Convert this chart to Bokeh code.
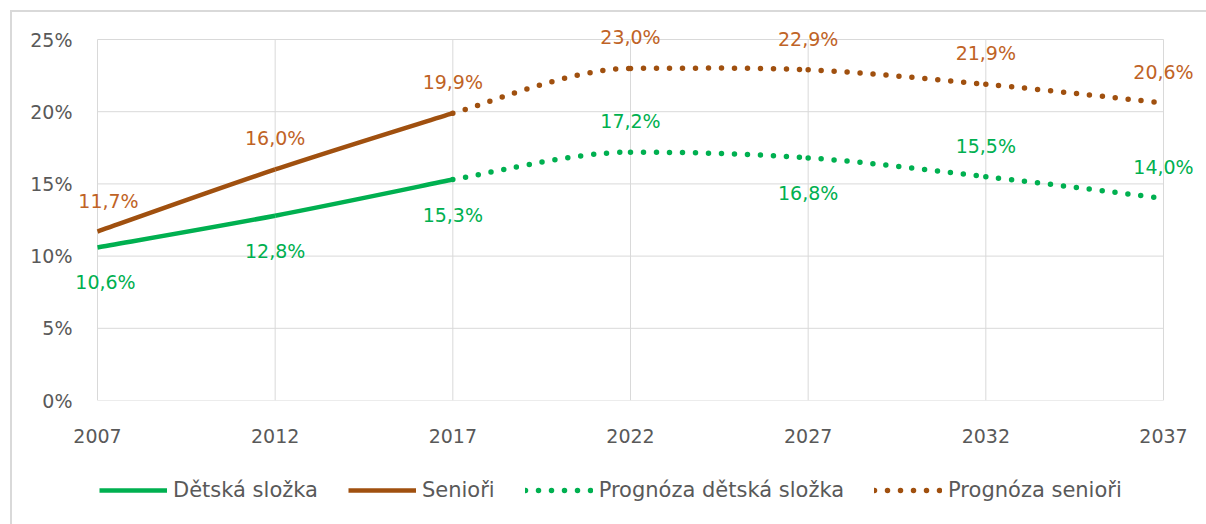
from bokeh.plotting import figure
from bokeh.layouts import column
from bokeh.models import (ColumnDataSource, LabelSet, Legend, LegendItem, Range1d,
                          FixedTicker)
from bokeh.core.properties import value
from bokeh.embed import file_html
from bokeh.resources import INLINE

# ---------------- data ----------------
years = [2007, 2012, 2017]
forecast_years = [2017, 2022, 2027, 2032, 2037]
detska = [10.6, 12.8, 15.3]
seniori = [11.7, 16.0, 19.9]
prognoza_detska = [15.3, 17.2, 16.8, 15.5, 14.0]
prognoza_seniori = [19.9, 23.0, 22.9, 21.9, 20.6]
x_ticks = [2007, 2012, 2017, 2022, 2027, 2032, 2037]
y_ticks = [0, 5, 10, 15, 20, 25]
y_tick_labels = ["0%", "5%", "10%", "15%", "20%", "25%"]
series_names = ["Dětská složka", "Senioři", "Prognóza dětská složka", "Prognóza senioři"]

# label placement per point (style)
detska_label_pos = ["below", "below", "below", "above", "below", "above", "above"]
seniori_label_pos = ["above"] * 7

GREEN = "#00B050"
BROWN_LINE = "#A0500F"
BROWN_TEXT = "#BF6326"
GREY_TEXT = "#595959"
GRID = "#D9D9D9"
FONT = "DejaVu Sans"
FSIZE = "19px"
LEGEND_FSIZE = "21px"


def smooth_segments(xs, ys):
    """Bezier control points for a smoothed line (Catmull-Rom tangents, flat at local extrema)."""
    n = len(xs)
    tang = []
    for i in range(n):
        a = max(i - 1, 0)
        b = min(i + 1, n - 1)
        if 0 < i < n - 1 and (ys[i] - ys[a]) * (ys[b] - ys[i]) <= 0:
            tang.append((xs[b] - xs[a], 0.0))
        else:
            tang.append((xs[b] - xs[a], ys[b] - ys[a]))
    d = dict(x0=[], y0=[], x1=[], y1=[], cx0=[], cy0=[], cx1=[], cy1=[])
    for i in range(n - 1):
        d["x0"].append(xs[i]); d["y0"].append(ys[i])
        d["x1"].append(xs[i + 1]); d["y1"].append(ys[i + 1])
        d["cx0"].append(xs[i] + tang[i][0] / 6.0)
        d["cy0"].append(ys[i] + tang[i][1] / 6.0)
        d["cx1"].append(xs[i + 1] - tang[i + 1][0] / 6.0)
        d["cy1"].append(ys[i + 1] - tang[i + 1][1] / 6.0)
    return ColumnDataSource(d)


# frame is a bit larger than the 2007-2037 / 0-25 grid so data labels are not clipped
px_per_year = 1066 / 30.0
px_per_pct = 361 / 25.0
x_start = x_ticks[0] - 22 / px_per_year
x_end = x_ticks[-1] + 32 / px_per_year
y_end = y_ticks[-1] + 14 / px_per_pct

p = figure(width=1206, height=470, output_backend="svg", toolbar_location=None,
           x_range=Range1d(x_start, x_end), y_range=Range1d(0, y_end),
           min_border_left=75, min_border_right=11, min_border_top=25, min_border_bottom=70)
p.styles = {"box-shadow": "inset 10px 10px 0 0 #FFFFFF, inset 12px 12px 0 0 #D9D9D9"}
p.background_fill_color = "white"
p.border_fill_alpha = 0
p.outline_line_color = None
p.xgrid.visible = False
p.ygrid.visible = False

for ax in (p.xaxis[0], p.yaxis[0]):
    ax.axis_line_color = None
    ax.major_tick_line_color = None
    ax.minor_tick_line_color = None
    ax.major_tick_out = 0
    ax.major_tick_in = 0
    ax.major_label_text_font = FONT
    ax.major_label_text_font_size = FSIZE
    ax.major_label_text_color = GREY_TEXT

p.xaxis.ticker = FixedTicker(ticks=x_ticks)
p.xaxis.major_label_standoff = 28
p.yaxis.ticker = FixedTicker(ticks=y_ticks)
p.yaxis.major_label_overrides = {t: l for t, l in zip(y_ticks, y_tick_labels)}
p.yaxis.major_label_standoff = 3

# grid lines (only over the 2007-2037 x 0-25 % area)
p.segment(x0=x_ticks, x1=x_ticks, y0=[y_ticks[0]] * len(x_ticks), y1=[y_ticks[-1]] * len(x_ticks),
          line_color=GRID, line_width=1)
p.segment(x0=[x_ticks[0]] * len(y_ticks), x1=[x_ticks[-1]] * len(y_ticks), y0=y_ticks, y1=y_ticks,
          line_color=GRID, line_width=1)

bz = dict(x0="x0", y0="y0", x1="x1", y1="y1", cx0="cx0", cy0="cy0", cx1="cx1", cy1="cy1")
solid = dict(line_width=4.5, line_cap="butt")
dotted = dict(line_width=5.5, line_cap="round", line_dash="0 13")
p.bezier(source=smooth_segments(years, detska), line_color=GREEN, **solid, **bz)
p.bezier(source=smooth_segments(years, seniori), line_color=BROWN_LINE, **solid, **bz)
p.bezier(source=smooth_segments(forecast_years, prognoza_detska), line_color=GREEN, **dotted, **bz)
p.bezier(source=smooth_segments(forecast_years, prognoza_seniori), line_color=BROWN_LINE, **dotted, **bz)

# data labels
all_years = years + forecast_years[1:]


def fmt(v):
    return f"{v:.1f}".replace(".", ",") + "%"


def label_source(vals, pos, first_dx):
    xo = [first_dx if i == 0 else 0 for i in range(len(vals))]
    yo = [31 if s == "above" else -35 for s in pos]
    return ColumnDataSource(dict(x=all_years, y=vals, text=[fmt(v) for v in vals], xo=xo, yo=yo))


det_vals = detska + prognoza_detska[1:]
sen_vals = seniori + prognoza_seniori[1:]

for vals, pos, col, dx in ((det_vals, detska_label_pos, GREEN, 8),
                           (sen_vals, seniori_label_pos, BROWN_TEXT, 11)):
    ls = LabelSet(x="x", y="y", text="text", x_offset="xo", y_offset="yo",
                  source=label_source(vals, pos, dx), text_align="center",
                  text_baseline="middle", text_font=value(FONT), text_font_size=FSIZE,
                  text_color=col)
    p.add_layout(ls)

# ---------------- legend strip ----------------
lg = figure(width=1206, height=54, output_backend="svg", toolbar_location=None,
            x_axis_location=None, y_axis_location=None, min_border=0,
            x_range=Range1d(0, 1), y_range=Range1d(0, 1))
lg.styles = {"box-shadow": "inset 10px 0 0 0 #FFFFFF, inset 12px 0 0 0 #D9D9D9"}
lg.background_fill_alpha = 0
lg.border_fill_alpha = 0
lg.outline_line_color = None
lg.xgrid.visible = False
lg.ygrid.visible = False

# legend proxies (same series, outside this strip's visible range)
l_det = lg.line(x=years, y=detska, line_color=GREEN, **solid)
l_sen = lg.line(x=years, y=seniori, line_color=BROWN_LINE, **solid)
l_pdet = lg.line(x=forecast_years, y=prognoza_detska, line_color=GREEN, **dotted)
l_psen = lg.line(x=forecast_years, y=prognoza_seniori, line_color=BROWN_LINE, **dotted)

legend = Legend(items=[LegendItem(label=series_names[0], renderers=[l_det]),
                       LegendItem(label=series_names[1], renderers=[l_sen]),
                       LegendItem(label=series_names[2], renderers=[l_pdet]),
                       LegendItem(label=series_names[3], renderers=[l_psen])],
                orientation="horizontal", location=(24, 22),
                border_line_alpha=0, background_fill_alpha=0, padding=0, margin=0,
                glyph_width=68, glyph_height=20, label_height=20, label_standoff=6, spacing=30,
                label_text_font=FONT, label_text_font_size=LEGEND_FSIZE, label_text_color=GREY_TEXT)
lg.add_layout(legend)

layout = column(p, lg, spacing=0)
open("out.html", "w").write(file_html(layout, INLINE))
